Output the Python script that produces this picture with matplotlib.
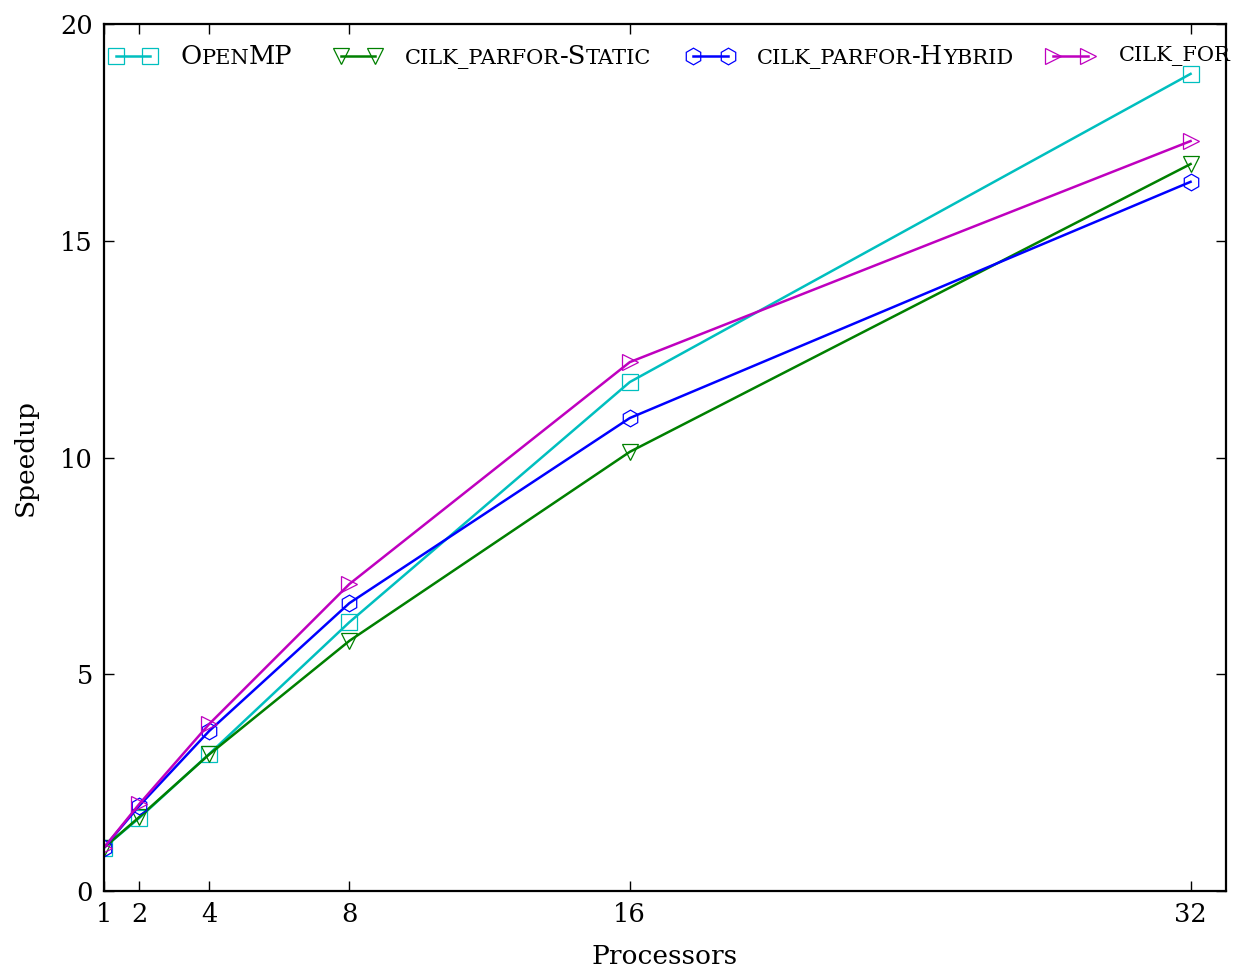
import matplotlib
matplotlib.use("Agg")
import matplotlib.pyplot as plt
from matplotlib.lines import Line2D
from matplotlib.offsetbox import TextArea, HPacker, AnnotationBbox

plt.rcParams['font.family'] = ['DejaVu Serif']

procs = [1, 2, 4, 8, 16, 32]
openmp = [1.0, 1.68, 3.16, 6.2, 11.74, 18.85]
parfor_static = [1.0, 1.7, 3.15, 5.77, 10.13, 16.77]
parfor_hybrid = [1.0, 1.96, 3.69, 6.64, 10.91, 16.36]
cilk_for = [1.0, 2.0, 3.85, 7.08, 12.2, 17.3]

names = ["OpenMP", "cilk_parfor-Static", "cilk_parfor-Hybrid", "cilk_for"]
series = [openmp, parfor_static, parfor_hybrid, cilk_for]
colors = ['c', 'g', 'b', 'm']
markers = ['s', 'v', 'h', '>']

xticks = [1, 2, 4, 8, 16, 32]
yticks = [0, 5, 10, 15, 20]


def small_caps(s, size, ratio=0.82):
    # upper case letters at full size, lower case as shrunken capitals
    runs = []
    for ch in s:
        small = ch.islower() or ch == '_'
        if runs and runs[-1][0] == small:
            runs[-1][1] += ch
        else:
            runs.append([small, ch])
    boxes = [TextArea(txt.upper(), textprops=dict(fontsize=size * ratio if sm else size,
                                                  family='DejaVu Serif'))
             for sm, txt in runs]
    return HPacker(children=boxes, align="baseline", pad=0, sep=0)


fig = plt.figure(figsize=(12.38, 9.73), dpi=100)
ax = fig.add_axes([0.084, 0.0843, 0.906, 0.891])

for vals, c, m in zip(series, colors, markers):
    ax.plot(procs, vals, color=c, lw=1.8, marker=m, markersize=12,
            markerfacecolor='none', markeredgecolor=c, markeredgewidth=0.9)

ax.set_xlim(1, 33)
ax.set_ylim(0, 20)
ax.set_xticks(xticks)
ax.set_yticks(yticks)
ax.tick_params(direction='in', length=7, width=1, top=True, right=True,
               labelsize=18.5, pad=8)
for sp in ax.spines.values():
    sp.set_linewidth(1.6)

ax.set_xlabel("Processors", fontsize=19, labelpad=12)
ax.set_ylabel("Speedup", fontsize=19, labelpad=16)

# hand-built legend row with small-caps labels
handle_x = [(0.011, 0.041), (0.211, 0.242), (0.525, 0.556), (0.846, 0.877)]
text_x = [0.068, 0.268, 0.582, 0.905]
leg_y = 0.963
for (x0, x1), tx, name, c, m in zip(handle_x, text_x, names, colors, markers):
    ax.add_line(Line2D([x0, x1], [leg_y, leg_y], transform=ax.transAxes,
                       color=c, lw=1.8, marker=m, markersize=12,
                       markerfacecolor='none', markeredgecolor=c,
                       markeredgewidth=0.9, clip_on=False))
    ab = AnnotationBbox(small_caps(name, 18.5), (tx, leg_y), xycoords='axes fraction',
                        box_alignment=(0, 0.5), frameon=False, pad=0,
                        annotation_clip=False)
    ax.add_artist(ab)

fig.savefig("out.png", dpi=100)
